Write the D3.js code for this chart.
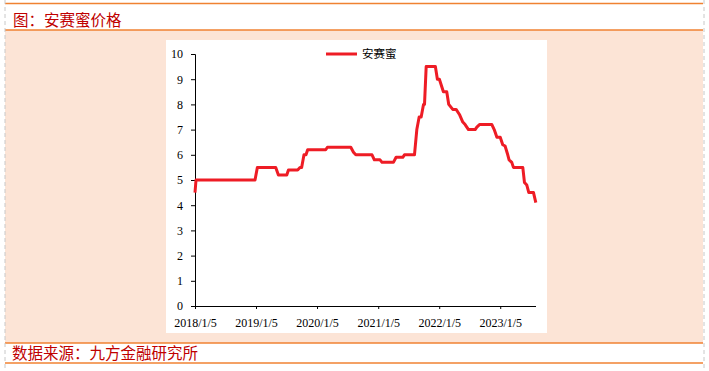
<!DOCTYPE html>
<html>
<head>
<meta charset="utf-8">
<script src="https://cdn.jsdelivr.net/npm/d3@7"></script>
<style>
 body{margin:0;background:#fff;}
 svg{display:block;}
</style>
</head>
<body>
<script>
// 安赛蜜价格 (step points)
var dates = ["2018-01-05","2018-01-11","2018-12-30","2019-01-13","2019-05-03","2019-05-19","2019-07-08","2019-07-18",
 "2019-09-11","2019-09-25","2019-10-05","2019-10-19","2019-10-31","2019-11-10","2020-02-26","2020-03-07",
 "2020-07-25","2020-08-10","2020-08-24","2020-11-29","2020-12-13","2021-01-16","2021-01-28","2021-04-06",
 "2021-04-22","2021-06-01","2021-06-11","2021-08-10","2021-08-24","2021-09-07","2021-09-19","2021-10-03",
 "2021-10-09","2021-10-19","2021-12-13","2021-12-25","2022-01-06","2022-01-30","2022-02-19","2022-03-03",
 "2022-03-27","2022-04-16","2022-05-06","2022-05-26","2022-06-09","2022-06-29","2022-08-08","2022-08-18",
 "2022-09-03","2022-11-16","2022-11-30","2022-12-16","2023-01-05","2023-01-20","2023-02-03","2023-02-19",
 "2023-02-27","2023-03-15","2023-03-25","2023-05-20","2023-05-30","2023-06-13","2023-06-25","2023-07-23","2023-08-06"];
var values = [4.5,5.0,5.0,5.5,5.5,5.2,5.2,5.4,
 5.4,5.5,5.5,6.0,6.0,6.2,6.2,6.3,
 6.3,6.1,6.0,6.0,5.8,5.8,5.7,5.7,
 5.9,5.9,6.0,6.0,7.0,7.5,7.5,8.0,
 8.0,9.5,9.5,9.0,9.0,8.5,8.5,8.0,
 7.8,7.8,7.6,7.3,7.2,7.0,7.0,7.1,
 7.2,7.2,7.0,6.7,6.7,6.4,6.35,6.0,
 5.8,5.7,5.5,5.5,4.9,4.8,4.5,4.5,4.1];
var xTicks = ["2018-01-05","2019-01-05","2020-01-05","2021-01-05","2022-01-05","2023-01-05"];
var yTicks = [0,1,2,3,4,5,6,7,8,9,10];
var seriesName = "安赛蜜";
var title = "图：安赛蜜价格";
var source = "数据来源：九方金融研究所";

var W = 709, H = 371;
var parse = d3.timeParse("%Y-%m-%d");
var fmt = d3.timeFormat("%Y/%-m/%-d");
var data = dates.map(function(d,i){ return {date: parse(d), value: values[i]}; });

var svg = d3.select("body").append("svg")
  .attr("width", W)
  .attr("height", H);

// page frame
svg.append("rect").attr("x",5).attr("y",30).attr("width",698).attr("height",313).attr("fill","#fce4d6");
[3.5,30,343,363].forEach(function(y){
  svg.append("line").attr("x1",5).attr("x2",703).attr("y1",y).attr("y2",y)
    .attr("stroke","#f08232").attr("stroke-width",1.5);
});
[5,704].forEach(function(x){
  svg.append("line").attr("x1",x).attr("x2",x).attr("y1",0).attr("y2",H)
    .attr("stroke","#c8c8c8").attr("stroke-dasharray","4,3");
});

svg.append("text").attr("x",13).attr("y",26)
  .attr("font-family","Noto Sans CJK SC").attr("font-size",15.5)
  .attr("fill","#c00000").text(title);
svg.append("text").attr("x",12).attr("y",359)
  .attr("font-family","Noto Sans CJK SC").attr("font-size",15.5)
  .attr("fill","#c00000").text(source);

// chart area
svg.append("rect").attr("x",166).attr("y",40).attr("width",381).attr("height",293).attr("fill","#fff");

var x = d3.scaleTime()
  .domain([parse("2018-01-05"), parse("2023-08-07")])
  .range([195, 536]);
var y = d3.scaleLinear().domain([0,10]).range([306, 54]);

var yAxis = svg.append("g").attr("transform","translate(195,0)")
  .call(d3.axisLeft(y).tickValues(yTicks).tickSize(4).tickPadding(8));
var xAxis = svg.append("g").attr("transform","translate(0,306)")
  .call(d3.axisBottom(x).tickValues(xTicks.map(parse)).tickFormat(fmt).tickSize(3).tickPadding(9));
[xAxis, yAxis].forEach(function(g){
  g.selectAll("path").attr("stroke","#000");
  g.selectAll("line").attr("stroke","#000");
  g.selectAll("text").attr("font-family","Liberation Serif").attr("font-size",12).attr("fill","#000");
});
xAxis.select("path").attr("d","M195,0.5H536");

var line = d3.line()
  .x(function(d){ return x(d.date); })
  .y(function(d){ return y(d.value); });
svg.append("path").datum(data)
  .attr("d", line)
  .attr("fill","none")
  .attr("stroke","#ee1c25")
  .attr("stroke-width",3)
  .attr("stroke-linejoin","round");

// legend
svg.append("line").attr("x1",326).attr("x2",357).attr("y1",54).attr("y2",54)
  .attr("stroke","#ee1c25").attr("stroke-width",3);
svg.append("text").attr("x",362).attr("y",58)
  .attr("font-family","Noto Sans CJK SC").attr("font-size",11.5)
  .attr("fill","#000").text(seriesName);
</script>
</body>
</html>
